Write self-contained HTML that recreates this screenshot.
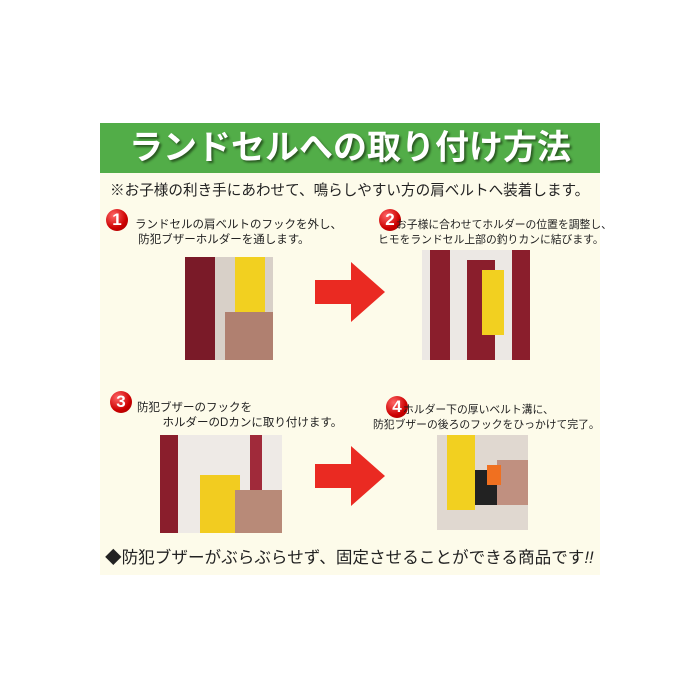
<!DOCTYPE html>
<html><head><meta charset="utf-8"><style>
body{margin:0;width:700px;height:700px;background:#fff;position:relative;overflow:hidden;font-family:"Liberation Sans","Noto Sans CJK JP",sans-serif;}
.a{position:absolute}
.panel{left:100px;top:123px;width:500px;height:452px;background:#fdfbea}
.hdr{left:100px;top:123px;width:500px;height:50px;background:#52ad48;color:#fff;font-size:34px;font-weight:bold;line-height:50px;text-align:center;white-space:nowrap;text-shadow:2px 2px 2px #2a5a22}
.t{font-size:11.5px;color:#222;white-space:nowrap;line-height:15px}
.t2{font-size:10.8px}
.num{width:22px;height:22px;border-radius:50%;background:radial-gradient(circle at 35% 30%,#f66,#c00 60%,#900);color:#fff;font-weight:bold;font-size:17px;text-align:center;line-height:22px}
.ph{overflow:hidden;background:#e8e4dc}
</style></head><body>
<div class="a panel"></div>
<div class="a hdr">ランドセルへの取り付け方法</div>
<div class="a" style="left:110px;top:179px;font-size:14.6px;color:#222;white-space:nowrap">※お子様の利き手にあわせて、鳴らしやすい方の肩ベルトへ装着します。</div>

<div class="a num" style="left:106px;top:209px">1</div>
<div class="a t" style="left:135px;top:218px">ランドセルの肩ベルトのフックを外し、<br>&nbsp;防犯ブザーホルダーを通します。</div>
<div class="a num" style="left:379px;top:209px">2</div>
<div class="a t t2" style="left:378px;top:218px">&nbsp;&nbsp;&nbsp;&nbsp;&nbsp;&nbsp;お子様に合わせてホルダーの位置を調整し、<br>ヒモをランドセル上部の釣りカンに結びます。</div>

<div class="a ph" style="left:185px;top:257px;width:88px;height:103px;background:#d8d0c8">
 <div class="a" style="left:0;top:0;width:30px;height:103px;background:#7a1a28"></div>
 <div class="a" style="left:50px;top:0;width:30px;height:60px;background:#f2d020"></div>
 <div class="a" style="left:40px;top:55px;width:48px;height:48px;background:#b08070"></div>
</div>
<div class="a ph" style="left:422px;top:250px;width:108px;height:110px;background:#ece8e4">
 <div class="a" style="left:8px;top:0;width:20px;height:110px;background:#8a1e2c"></div>
 <div class="a" style="left:45px;top:10px;width:28px;height:100px;background:#8a1e2c"></div>
 <div class="a" style="left:60px;top:20px;width:22px;height:65px;background:#f2d020"></div>
 <div class="a" style="left:90px;top:0;width:18px;height:110px;background:#8a1e2c"></div>
</div>

<svg class="a" style="left:315px;top:262px" width="70" height="60"><polygon points="0,18 36,18 36,0 70,30 36,60 36,42 0,42" fill="#ea2a22"/></svg>
<svg class="a" style="left:315px;top:446px" width="70" height="60"><polygon points="0,18 36,18 36,0 70,30 36,60 36,42 0,42" fill="#ea2a22"/></svg>

<div class="a num" style="left:110px;top:391px">3</div>
<div class="a t" style="left:137px;top:401px">防犯ブザーのフックを<br>&nbsp;&nbsp;&nbsp;&nbsp;&nbsp;&nbsp;&nbsp;&nbsp;ホルダーのDカンに取り付けます。</div>
<div class="a num" style="left:386px;top:396px">4</div>
<div class="a t t2" style="left:373px;top:403px">&nbsp;&nbsp;&nbsp;&nbsp;&nbsp;&nbsp;&nbsp;&nbsp;&nbsp;&nbsp;ホルダー下の厚いベルト溝に、<br>防犯ブザーの後ろのフックをひっかけて完了。</div>

<div class="a ph" style="left:160px;top:435px;width:122px;height:98px;background:#eeeae6">
 <div class="a" style="left:0;top:0;width:18px;height:98px;background:#8a1e2c"></div>
 <div class="a" style="left:90px;top:0;width:12px;height:60px;background:#a02a3a"></div>
 <div class="a" style="left:40px;top:40px;width:40px;height:58px;background:#f2cc20"></div>
 <div class="a" style="left:75px;top:55px;width:47px;height:43px;background:#b88a78"></div>
</div>
<div class="a ph" style="left:437px;top:435px;width:91px;height:95px;background:#e0d8d0">
 <div class="a" style="left:10px;top:0;width:28px;height:75px;background:#f2d020"></div>
 <div class="a" style="left:38px;top:35px;width:30px;height:35px;background:#222"></div>
 <div class="a" style="left:60px;top:25px;width:31px;height:45px;background:#c09080"></div>
 <div class="a" style="left:50px;top:30px;width:14px;height:20px;background:#f07020"></div>
</div>

<div class="a" style="left:105px;top:544px;font-size:16.6px;color:#222;white-space:nowrap">◆防犯ブザーがぶらぶらせず、固定させることができる商品です<i>!!</i></div>
</body></html>
